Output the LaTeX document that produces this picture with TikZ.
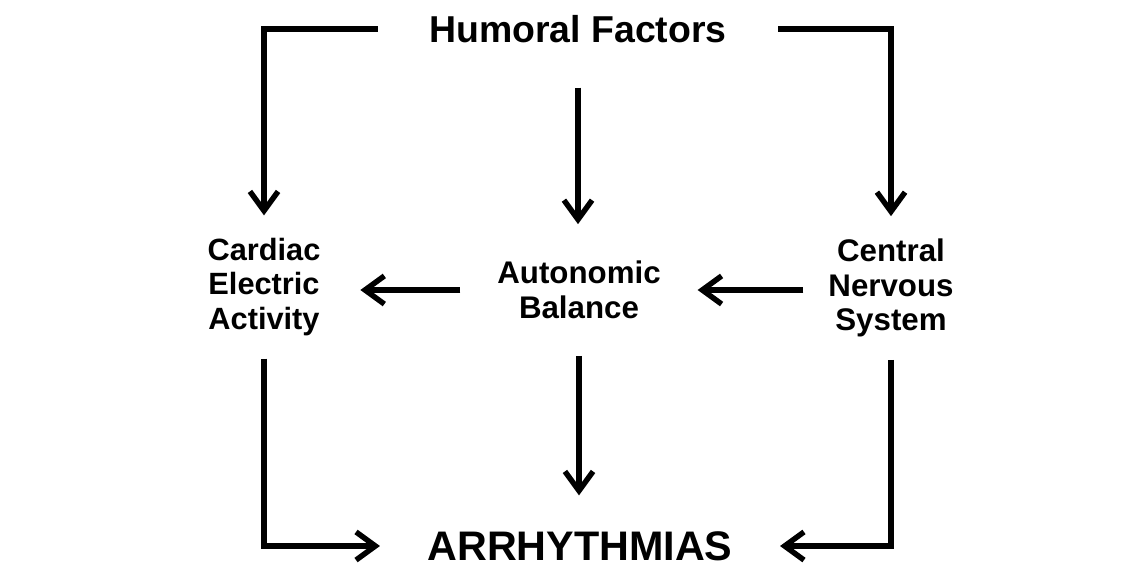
\documentclass[tikz,border=0pt]{standalone}
\usepackage{fontspec}
\setmainfont{Liberation Sans}
\usetikzlibrary{positioning,arrows.meta,calc}

\begin{document}
\begin{tikzpicture}[x=0.02cm,y=-0.02cm,
	>={Straight Barb[length=11pt,width=16pt]},
	every path/.style={line width=3.1pt},
	factor/.style={font=\bfseries\fontsize{17.8}{19.8}\selectfont,
		align=center, inner sep=0pt, outer sep=0.6cm},
	title/.style={font=\bfseries\fontsize{23}{26}\selectfont,
		inner sep=0pt}]
	\useasboundingbox (0,0) rectangle (1143,568);

	\node[title, font=\bfseries\fontsize{21.3}{24}\selectfont,
		  outer xsep=1.03cm, outer ysep=0.9cm]
		  (hum) at (578,29) {Humoral Factors};
	\node[factor, font=\bfseries\fontsize{17.5}{19.8}\selectfont,
		  outer xsep=0.8cm, outer ysep=0.45cm]
		  (cea) at (264,287) {Cardiac\\Electric\\Activity};
	\node[factor, outer sep=0.74cm]
		  (ab) at (579,290) {Autonomic\\Balance};
	\node[factor, outer xsep=0.5cm, outer ysep=0.45cm]
		  (cns) at (891,288) {Central\\Nervous\\System};
	\node[title, font=\bfseries\fontsize{23.5}{26}\selectfont,
		  outer xsep=0.95cm, outer ysep=0.72cm]
		  (arr) at (580,546) {ARRHYTHMIAS};

	\draw[->] (hum.west) -| (cea.north);
	\draw[->] (hum.east) -| (cns.north);
	\draw[->] (hum.south) -- (hum.south |- ab.north);
	\draw[->] (ab.west) -- (ab.west -| cea.east);
	\draw[->] (ab.east -| cns.west) -- (ab.east);
	\draw[->] (ab.south) -- (ab.south |- arr.north);
	\draw[->] (cea.south) |- (arr.west);
	\draw[->] (cns.south) |- (arr.east);
\end{tikzpicture}
\end{document}
